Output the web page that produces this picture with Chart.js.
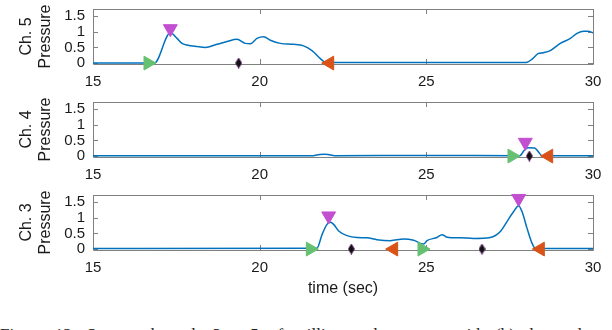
<!DOCTYPE html>
<html>
<head>
<meta charset="utf-8">
<script src="https://cdn.jsdelivr.net/npm/chart.js@4.4.1/dist/chart.umd.min.js"></script>
<style>
  html, body { margin: 0; padding: 0; background: #fff; }
  body { width: 612px; height: 330px; overflow: hidden; position: relative; }
  canvas { position: absolute; left: 0; }
  #caption { position: absolute; left: 0; top: 325px; font: 17px "Liberation Serif", serif; white-space: nowrap; color: #222; word-spacing: 6px; }
</style>
</head>
<body>
<canvas id="ch5" width="612" height="92" style="top:0px"></canvas>
<canvas id="ch4" width="612" height="92" style="top:93px"></canvas>
<canvas id="ch3" width="612" height="116" style="top:186px"></canvas>
<div id="caption">Figure 12: Sensor channels 3 – 5 of milling and pressure with (b) detected events</div>
<script>
// axis ticks
const timeTicks = [15, 20, 25, 30];
const timeTickLabels = ['15', '20', '25', '30'];
const pressureTicks = [0, 0.5, 1, 1.5];
const pressureTickLabels = ['0', '0.5', '1', '1.5'];

// Ch. 5
const ch5Time = [15, 16.84, 17.32, 17.52, 17.67, 17.82, 18.12, 18.37, 18.72, 19.02, 19.32, 19.57, 19.72, 19.92, 20.12, 20.32, 20.62, 21.02, 21.32, 21.57, 21.82, 21.97, 22.2, 25, 28.0, 28.2, 28.35, 28.5, 28.72, 29.02, 29.32, 29.52, 29.72, 29.85, 30];
const ch5Pressure = [0, 0, 0.97, 0.79, 0.63, 0.58, 0.53, 0.50, 0.60, 0.69, 0.76, 0.63, 0.62, 0.79, 0.84, 0.73, 0.63, 0.60, 0.55, 0.40, 0.14, 0.03, 0.02, 0.02, 0.02, 0.15, 0.30, 0.33, 0.40, 0.63, 0.79, 0.95, 1.02, 1.02, 0.97];
const ch5Onset = [16.65];
const ch5PeakTime = [17.32];
const ch5PeakValue = [1.1];
const ch5Middle = [19.37];
const ch5Offset = [22.1];

// Ch. 4
const ch4Time = [15, 21.6, 21.8, 21.95, 22.1, 22.3, 25, 27.8, 27.95, 28.05, 28.25, 28.35, 28.47, 30];
const ch4Pressure = [0.01, 0.01, 0.05, 0.06, 0.04, 0.01, 0.02, 0.01, 0.2, 0.27, 0.26, 0.15, 0.01, 0.01];
const ch4Onset = [27.57];
const ch4PeakTime = [27.97];
const ch4PeakValue = [0.44];
const ch4Middle = [28.09];
const ch4Offset = [28.67];

// Ch. 3
const ch3Time = [15, 21.72, 21.87, 22.02, 22.12, 22.22, 22.37, 22.62, 22.92, 23.22, 23.52, 23.92, 24.32, 24.62, 24.92, 25.02, 25.32, 25.47, 25.62, 26.02, 26.42, 26.92, 27.22, 27.42, 27.62, 27.77, 27.87, 28.02, 28.17, 28.27, 30];
const ch3Pressure = [0.02, 0.03, 0.46, 0.79, 0.86, 0.79, 0.58, 0.43, 0.37, 0.36, 0.30, 0.27, 0.32, 0.28, 0.16, 0.27, 0.37, 0.46, 0.38, 0.36, 0.34, 0.37, 0.56, 0.88, 1.2, 1.39, 1.2, 0.67, 0.19, 0.02, 0.02];
const ch3Onset = [21.52, 24.87];
const ch3PeakTime = [22.07, 27.77];
const ch3PeakValue = [1.06, 1.62];
const ch3Middle = [22.75, 26.67];
const ch3Offset = [24.02, 28.42];

const lineColor = '#0072BD';
const onsetColor = '#66c071';
const offsetColor = '#D95319';
const peakColor = '#c24fd0';
const axisColor = '#808080';
const textColor = '#1a1a1a';

// tall narrow diamond for the middle marks
const diamond = document.createElement('canvas');
diamond.width = 7;
diamond.height = 11;
const dctx = diamond.getContext('2d');
dctx.fillStyle = '#111';
dctx.strokeStyle = '#6a1a7a';
dctx.lineWidth = 0.6;
dctx.beginPath();
dctx.moveTo(3.5, 0.3);
dctx.lineTo(6.7, 5.5);
dctx.lineTo(3.5, 10.7);
dctx.lineTo(0.3, 5.5);
dctx.closePath();
dctx.fill();
dctx.stroke();

const toPoints = (xs, ys) => xs.map((x, i) => ({ x: x, y: ys ? ys[i] : 0 }));

// box with inward ticks like the original figure
const boxPlugin = {
  id: 'box',
  beforeDatasetsDraw(chart) {
    const { ctx, chartArea: a, scales } = chart;
    const len = 5;
    ctx.save();
    ctx.strokeStyle = axisColor;
    ctx.lineWidth = 1;
    ctx.beginPath();
    ctx.rect(Math.round(a.left) + 0.5, Math.round(a.top) + 0.5, Math.round(a.right - a.left), Math.round(a.bottom - a.top));
    timeTicks.forEach(t => {
      const x = Math.round(scales.x.getPixelForValue(t)) + 0.5;
      ctx.moveTo(x, a.top); ctx.lineTo(x, a.top + len);
      ctx.moveTo(x, a.bottom); ctx.lineTo(x, a.bottom - len);
    });
    pressureTicks.forEach(v => {
      const y = Math.round(scales.y.getPixelForValue(v)) + 0.5;
      ctx.moveTo(a.left, y); ctx.lineTo(a.left + len, y);
      ctx.moveTo(a.right, y); ctx.lineTo(a.right - len, y);
    });
    ctx.stroke();
    ctx.restore();
  }
};

function markerSet(points, color, rotation, style) {
  return {
    type: 'line',
    data: points,
    showLine: false,
    pointStyle: style || 'triangle',
    pointRotation: rotation,
    pointRadius: 8,
    pointHoverRadius: 8,
    pointBackgroundColor: color,
    pointBorderColor: color,
    pointBorderWidth: 1,
    clip: false
  };
}

function makePanel(id, label, time, pressure, onset, peakT, peakV, middle, offset, withTitle) {
  const canvas = document.getElementById(id);
  new Chart(canvas, {
    type: 'line',
    data: {
      datasets: [
        markerSet(toPoints(onset), onsetColor, 90),
        markerSet(toPoints(offset), offsetColor, 270),
        markerSet(toPoints(peakT, peakV), peakColor, 180),
        markerSet(toPoints(middle), '#000', 0, diamond),
        {
          data: toPoints(time, pressure),
          borderColor: lineColor,
          borderWidth: 1.5,
          pointRadius: 0,
          cubicInterpolationMode: 'monotone',
          fill: false
        }
      ]
    },
    options: {
      responsive: false,
      animation: false,
      events: [],
      layout: { padding: { top: 7, right: 19, left: 0, bottom: 0 } },
      plugins: { legend: { display: false }, tooltip: { enabled: false } },
      scales: {
        x: {
          type: 'linear',
          min: 15,
          max: 30,
          grid: { display: false, drawTicks: false },
          border: { display: false },
          afterBuildTicks: s => { s.ticks = timeTicks.map(v => ({ value: v })); },
          afterFit: s => {
            s.height = canvas.height - 64;
            s.paddingLeft = 0; s.paddingRight = 0;
          },
          ticks: {
            padding: 9,
            autoSkip: false,
            color: textColor,
            maxRotation: 0,
            font: { family: 'Liberation Sans', size: 15 },
            callback: (v, i) => timeTickLabels[i]
          },
          title: {
            display: withTitle,
            text: 'time (sec)',
            color: textColor,
            padding: { top: 0, bottom: 4 },
            font: { family: 'Liberation Sans', size: 16 }
          }
        },
        y: {
          min: -0.03,
          max: 1.73,
          grid: { display: false, drawTicks: false },
          border: { display: false },
          afterBuildTicks: s => { s.ticks = pressureTicks.map(v => ({ value: v })); },
          afterFit: s => {
            s.width = 93;
            s.paddingTop = 0; s.paddingBottom = 0;
          },
          ticks: {
            padding: 8,
            autoSkip: false,
            color: textColor,
            font: { family: 'Liberation Sans', size: 15, lineHeight: 1 },
            callback: (v, i) => pressureTickLabels[i]
          },
          title: {
            display: true,
            text: [label, 'Pressure'],
            color: textColor,
            padding: { top: 17, bottom: 0 },
            font: { family: 'Liberation Sans', size: 16 }
          }
        }
      }
    },
    plugins: [boxPlugin]
  });
}

makePanel('ch5', 'Ch. 5', ch5Time, ch5Pressure, ch5Onset, ch5PeakTime, ch5PeakValue, ch5Middle, ch5Offset, false);
makePanel('ch4', 'Ch. 4', ch4Time, ch4Pressure, ch4Onset, ch4PeakTime, ch4PeakValue, ch4Middle, ch4Offset, false);
makePanel('ch3', 'Ch. 3', ch3Time, ch3Pressure, ch3Onset, ch3PeakTime, ch3PeakValue, ch3Middle, ch3Offset, true);
</script>
</body>
</html>
